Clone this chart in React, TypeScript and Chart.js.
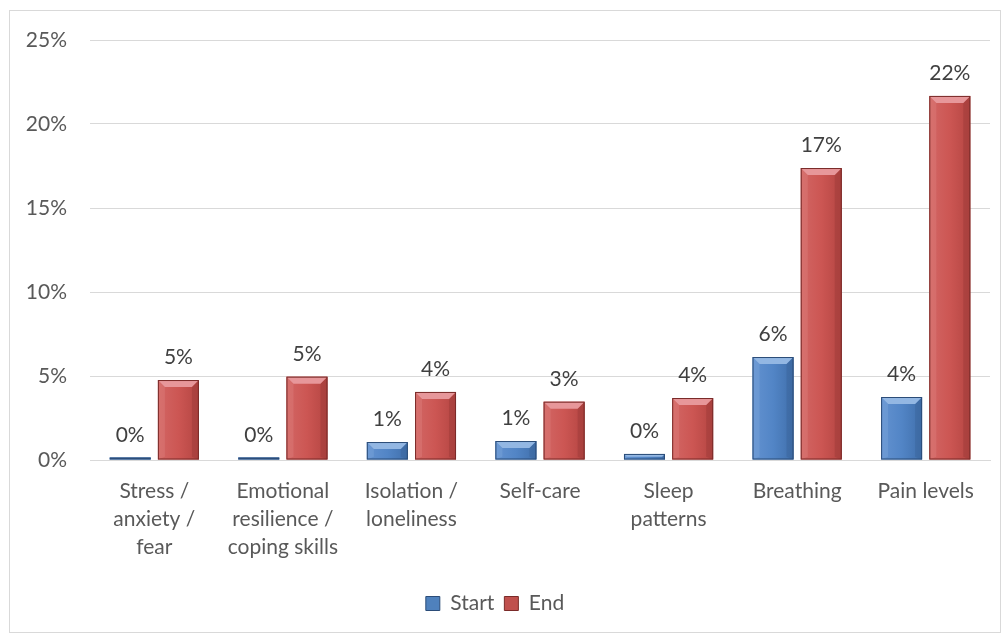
import React, { useEffect, useRef } from "react";
import { Chart, registerables } from "chart.js";
Chart.register(...registerables);

const categories: string[][] = [
  ["Stress /", "anxiety /", "fear"],
  ["Emotional", "resilience /", "coping skills"],
  ["Isolation /", "loneliness"],
  ["Self-care"],
  ["Sleep", "patterns"],
  ["Breathing"],
  ["Pain levels"],
];
const seriesNames = ["Start", "End"];
const startValues = [0.15, 0.15, 1.07, 1.13, 0.36, 6.13, 3.75];
const endValues = [4.76, 4.96, 4.05, 3.47, 3.69, 17.38, 21.67];
const yMax = 25;
const yStep = 5;

const palettes = [
  { base: "#4f81bd", light: "#6392d0", mid: "#5285c6", dark: "#406fab", top: "#93b7e3", left: "#7aa4da", right: "#3a639a", border: "#2b4c78" },
  { base: "#c0504d", light: "#d26664", mid: "#cc5653", dark: "#b44542", top: "#e7979a", left: "#dc7c7a", right: "#9c3a38", border: "#7a2b29" },
];

const FONT = "Lato, 'Open Sans', sans-serif";
const FS = 21;
const TEXT = "#595959";

const bevelPlugin = {
  id: "bevel",
  afterDatasetsDraw(chart: any) {
    const ctx = chart.ctx as CanvasRenderingContext2D;
    chart.data.datasets.forEach((ds: any, di: number) => {
      const meta = chart.getDatasetMeta(di);
      const pal = palettes[di];
      meta.data.forEach((bar: any, i: number) => {
        const { x, y, base, width } = bar.getProps(["x", "y", "base", "width"], true);
        const l = x - width / 2;
        const r = x + width / 2;
        const t = Math.min(y, base);
        const b = Math.max(y, base);
        const h = b - t;
        const bv = Math.min(7, h / 2, width / 2);
        ctx.save();
        const g = ctx.createLinearGradient(l, 0, r, 0);
        g.addColorStop(0, pal.light);
        g.addColorStop(0.5, pal.mid);
        g.addColorStop(1, pal.dark);
        ctx.fillStyle = g;
        ctx.fillRect(l, t, width, h);
        ctx.globalAlpha = 0.45;
        ctx.fillStyle = pal.left;
        ctx.beginPath();
        ctx.moveTo(l, t);
        ctx.lineTo(l + bv, t + bv);
        ctx.lineTo(l + bv, b - bv * 0.4);
        ctx.lineTo(l, b);
        ctx.closePath();
        ctx.fill();
        ctx.fillStyle = pal.right;
        ctx.beginPath();
        ctx.moveTo(r, t);
        ctx.lineTo(r - bv, t + bv);
        ctx.lineTo(r - bv, b - bv * 0.4);
        ctx.lineTo(r, b);
        ctx.closePath();
        ctx.fill();
        ctx.globalAlpha = 1;
        ctx.fillStyle = pal.top;
        ctx.beginPath();
        ctx.moveTo(l, t);
        ctx.lineTo(r, t);
        ctx.lineTo(r - bv, t + bv);
        ctx.lineTo(l + bv, t + bv);
        ctx.closePath();
        ctx.fill();
        ctx.strokeStyle = pal.border;
        ctx.lineWidth = 1;
        ctx.strokeRect(l + 0.5, t + 0.5, Math.max(width - 1, 0), Math.max(h - 1, 0));
        const v = ds.data[i] as number;
        ctx.fillStyle = "#404040";
        ctx.font = `${FS}px ${FONT}`;
        ctx.textAlign = "center";
        ctx.textBaseline = "bottom";
        ctx.fillText(`${Math.round(v)}%`, x, t - 12);
        ctx.restore();
      });
    });
  },
};

export default function App() {
  const ref = useRef<HTMLCanvasElement | null>(null);
  useEffect(() => {
    document.body.style.margin = "0";
    const canvas = ref.current!;
    const chart = new Chart(canvas, {
      type: "bar",
      data: {
        labels: categories,
        datasets: [
          {
            label: seriesNames[0],
            data: startValues,
            backgroundColor: palettes[0].base,
            borderColor: palettes[0].border,
            borderWidth: 1,
          },
          {
            label: seriesNames[1],
            data: endValues,
            backgroundColor: palettes[1].base,
            borderColor: palettes[1].border,
            borderWidth: 1,
          },
        ],
      },
      options: {
        responsive: false,
        animation: false,
        datasets: { bar: { categoryPercentage: 0.75, barPercentage: 0.85 } },
        layout: { padding: { top: 40, right: 14, bottom: 10, left: 0 } },
        plugins: {
          tooltip: { enabled: false },
          legend: {
            position: "bottom",
            labels: {
              boxWidth: 14,
              boxHeight: 14,
              padding: 10,
              color: TEXT,
              font: { family: FONT, size: FS },
            },
          },
        },
        scales: {
          x: {
            grid: { display: false, drawTicks: false },
            border: { display: true, color: "#d9d9d9", width: 1 },
            ticks: {
              color: TEXT,
              font: { family: FONT, size: FS, lineHeight: 1.33 },
              padding: 17,
              maxRotation: 0,
              autoSkip: false,
            },
            afterFit: (s: any) => {
              s.height = 123;
            },
          },
          y: {
            min: 0,
            max: yMax,
            grid: { color: "#d9d9d9", lineWidth: 1, drawTicks: false },
            border: { display: false },
            ticks: {
              stepSize: yStep,
              color: TEXT,
              font: { family: FONT, size: FS },
              padding: 23,
              callback: (v: any) => `${v}%`,
            },
            afterFit: (s: any) => {
              s.width = 90;
            },
          },
        },
      },
      plugins: [bevelPlugin],
    });
    return () => chart.destroy();
  }, []);
  return (
    <div style={{ position: "absolute", left: 0, top: 0, width: 1004, height: 634, background: "#fff" }}>
      <canvas ref={ref} width={1004} height={634} style={{ position: "absolute", left: 0, top: 0 }} />
      <div
        style={{
          position: "absolute",
          left: 9,
          top: 10,
          width: 990,
          height: 621,
          border: "1px solid #d9d9d9",
          pointerEvents: "none",
        }}
      />
    </div>
  );
}
